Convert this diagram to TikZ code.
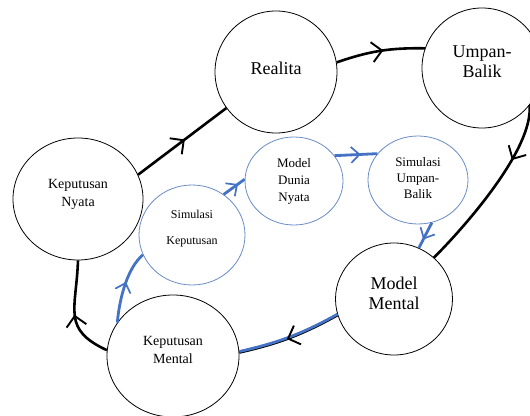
\documentclass[tikz,border=0pt]{standalone}
\usepackage{fontspec}
\setmainfont{Liberation Serif}
\usetikzlibrary{shapes.geometric,arrows.meta,decorations.markings}
\definecolor{lineblue}{HTML}{4472C4}
\definecolor{ringblue}{HTML}{6A8CC8}
\begin{document}
\begin{tikzpicture}[x=1pt,y=1pt,
  bigc/.style={ellipse,draw=black,line width=0.8pt,inner sep=0pt,align=center,fill=white},
  bluec/.style={ellipse,draw=ringblue,line width=0.8pt,inner sep=0pt,align=center,fill=white},
  blk/.style={line width=2.6pt,black},
  blu/.style={line width=2.8pt,lineblue},
  midarrow/.style={postaction={decorate},decoration={markings,mark=at position #1 with {\draw[line width=1.7pt,line join=miter] (-5pt,8pt) -- (3.5pt,0pt) -- (-5pt,-8pt);}}},
  midarrow/.default=0.5,
  bigarrow/.style={postaction={decorate},decoration={markings,mark=at position #1 with {\draw[line width=1.9pt,line join=miter] (-8pt,10pt) -- (2pt,0pt) -- (-8pt,-10pt);}}},
  bigarrow/.default=0.5,
  fbig/.style={font=\fontsize{18}{20}\selectfont},
  fmid/.style={font=\fontsize{14}{17.5}\selectfont},
  fsmall/.style={font=\fontsize{13}{17}\selectfont}
]
\useasboundingbox (0,0) rectangle (530,415);

\node[bigc,fbig,text depth=8pt,minimum width=122pt,minimum height=122pt] (R) at (276,343) {Realita};
\node[bigc,fbig,text depth=12pt,minimum width=120pt,minimum height=120pt] (U) at (482,347) {Umpan-\\Balik};
\node[bigc,fmid,text depth=12pt,minimum width=130pt,minimum height=122pt] (KN) at (78,216) {Keputusan\\Nyata};
\node[bigc,fmid,text depth=12pt,minimum width=132pt,minimum height=122pt] (KM) at (173,59) {Keputusan\\Mental};
\node[bigc,fbig,text depth=12pt,minimum width=117pt,minimum height=112pt] (MM) at (394,116) {Model\\Mental};
\node[bluec,font=\fontsize{12}{14}\selectfont,text depth=15pt,minimum width=106pt,minimum height=100pt] (SK) at (192,180) {Simulasi\\[12pt]Keputusan};
\node[bluec,fsmall,minimum width=98pt,minimum height=88pt] (MDN) at (294,234) {Model\\Dunia\\Nyata};
\node[bluec,font=\fontsize{13}{16}\selectfont,text depth=4pt,minimum width=100pt,minimum height=88pt] (SUB) at (418,235) {Simulasi\\Umpan-\\Balik};

% black outer loop
\draw[blk,bigarrow] (KN.22) -- (R.216);
\draw[blk,bigarrow] (R.9) to[bend left=10] (U.161);
\draw[blk,bigarrow=0.3] (U.-38) .. controls +(-85:45) and +(45:40) .. (MM.46);
\draw[blk] (MM.196) to[bend left=8] (KM.3);
\draw[blu] ([yshift=1pt]MM.196) to[bend left=8] ([yshift=1pt]KM.3);
\path[blk,bigarrow] (MM.196) to[bend left=8] (KM.3);
\draw[blk,bigarrow=0.45] (KM.175) .. controls +(155:50) and +(-92:50) .. (KN.270);

% blue inner loop
\draw[blu,midarrow] (KM.149.5) .. controls +(85:25) and +(220:20) .. (SK.202);
\draw[blu,midarrow] (SK.52) -- (MDN.178);
\draw[blu,midarrow] (MDN.32) -- (SUB.147);
\draw[blu,midarrow] (SUB.-72) -- (MM.64);
\end{tikzpicture}
\end{document}
